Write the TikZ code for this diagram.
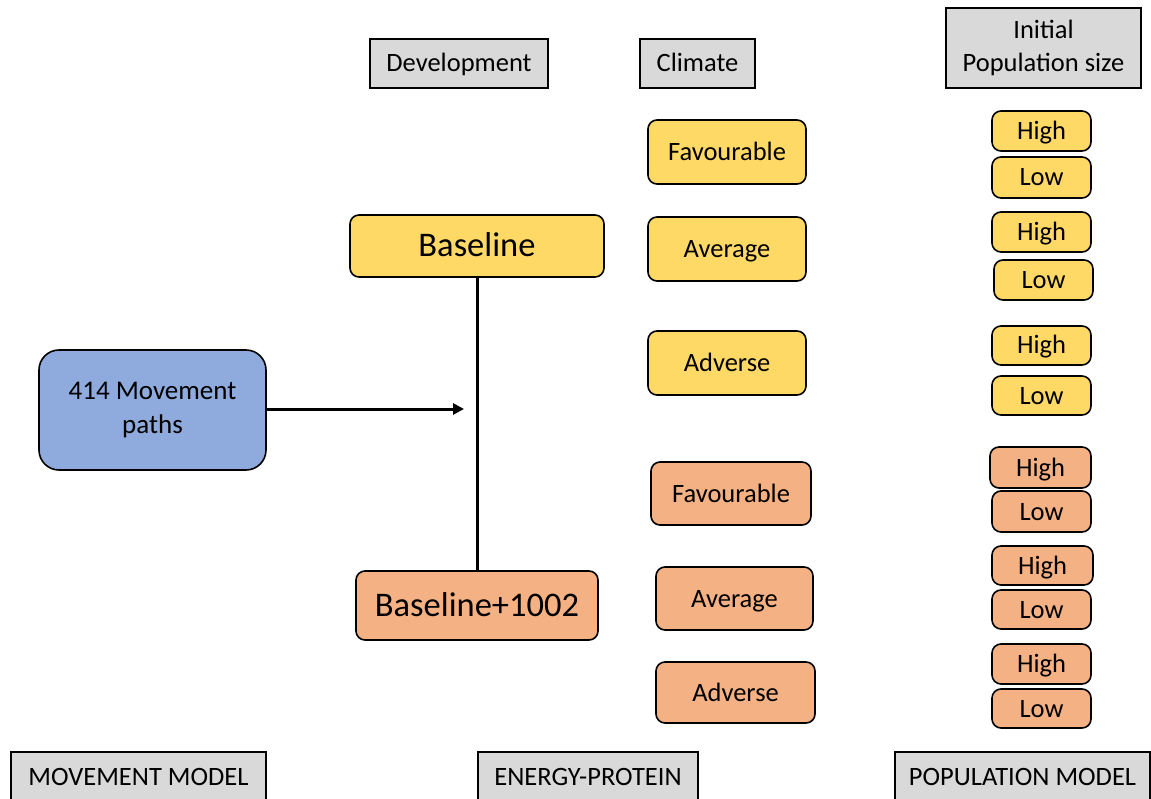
\documentclass[tikz,border=0pt]{standalone}
\usepackage{fontspec}
\setmainfont{Carlito}
\usetikzlibrary{arrows.meta}
\definecolor{ylw}{HTML}{FFD966}
\definecolor{org}{HTML}{F4B183}
\definecolor{blu}{HTML}{8FAADC}
\definecolor{gry}{HTML}{D9D9D9}
\tikzset{
  box/.style={draw=black, line width=1.6pt, inner sep=0pt, align=center, font=\fontsize{26.5}{32}\selectfont, text height=17pt, text depth=0pt},
  rbox/.style={box, rounded corners=9pt},
  ybox/.style={rbox, fill=ylw},
  obox/.style={rbox, fill=org},
  gbox/.style={box, fill=gry},
  multi/.style={text height=, text depth=},
  big/.style={font=\fontsize{34.5}{40}\selectfont, text height=22pt},
  conn/.style={line width=3pt, draw=black},
}
\begin{document}
\begin{tikzpicture}[x=1pt,y=-1pt]
\useasboundingbox (0,0) rectangle (1151,799);
% headers
\node[gbox, minimum width=178pt, minimum height=49pt] (dev) at (459,63.5) {Development};
\node[gbox, minimum width=115pt, minimum height=49pt] (cli) at (697.5,63.5) {Climate};
\node[gbox, multi, minimum width=195pt, minimum height=80pt, font=\fontsize{26.5}{33}\selectfont] (ini) at (1043.5,48) {Initial\\Population size};
% bottom labels
\node[gbox, minimum width=255pt, minimum height=49pt] (mm) at (138.5,776.5) {MOVEMENT MODEL};
\node[gbox, minimum width=220pt, minimum height=49pt] (ep) at (588,776.5) {ENERGY-PROTEIN};
\node[gbox, minimum width=255pt, minimum height=49pt] (pm) at (1022.5,776.5) {POPULATION MODEL};
% movement
\node[rbox, multi, fill=blu, rounded corners=20pt, minimum width=227pt, minimum height=120pt, font=\fontsize{27}{34}\selectfont] (mov) at (152.5,410) {414 Movement\\paths};
% development
\node[ybox, big, minimum width=254pt, minimum height=62pt] (base) at (477,246) {Baseline};
\node[obox, big, minimum width=242pt, minimum height=69pt] (b1002) at (477,605.5) {Baseline+1002};
\coordinate (tip) at (464,409);
\draw[conn] (base.south) -- (b1002.north);
\draw[conn, -{Triangle[length=11pt,width=11pt]}] (mov.east|-tip) -- (tip);
% climate yellow
\node[ybox, minimum width=158pt, minimum height=64pt] (c1) at (727,152) {Favourable};
\node[ybox, minimum width=158pt, minimum height=64pt] (c2) at (727,249) {Average};
\node[ybox, minimum width=158pt, minimum height=64pt] (c3) at (727,363) {Adverse};
% climate orange
\node[obox, minimum width=160pt, minimum height=63pt] (c4) at (731,493.5) {Favourable};
\node[obox, minimum width=157pt, minimum height=63pt] (c5) at (734.5,598.5) {Average};
\node[obox, minimum width=159pt, minimum height=61pt] (c6) at (735.5,692.5) {Adverse};
% population yellow
\node[ybox, minimum width=99pt, minimum height=40pt] (p1) at (1041.5,131) {High};
\node[ybox, minimum width=99pt, minimum height=41pt] (p2) at (1041.5,177.5) {Low};
\node[ybox, minimum width=99pt, minimum height=40pt] (p3) at (1041.5,232) {High};
\node[ybox, minimum width=99pt, minimum height=40pt] (p4) at (1043.5,280) {Low};
\node[ybox, minimum width=99pt, minimum height=39pt] (p5) at (1041.5,345.5) {High};
\node[ybox, minimum width=99pt, minimum height=39pt] (p6) at (1041.5,395.5) {Low};
% population orange
\node[obox, minimum width=101pt, minimum height=41pt] (p7) at (1040.5,467.5) {High};
\node[obox, minimum width=99pt, minimum height=41pt] (p8) at (1041.5,511.5) {Low};
\node[obox, minimum width=101pt, minimum height=39pt] (p9) at (1042.5,565.5) {High};
\node[obox, minimum width=99pt, minimum height=39pt] (p10) at (1041.5,609.5) {Low};
\node[obox, minimum width=99pt, minimum height=40pt] (p11) at (1041.5,664) {High};
\node[obox, minimum width=99pt, minimum height=39pt] (p12) at (1041.5,708.5) {Low};
\end{tikzpicture}
\end{document}
